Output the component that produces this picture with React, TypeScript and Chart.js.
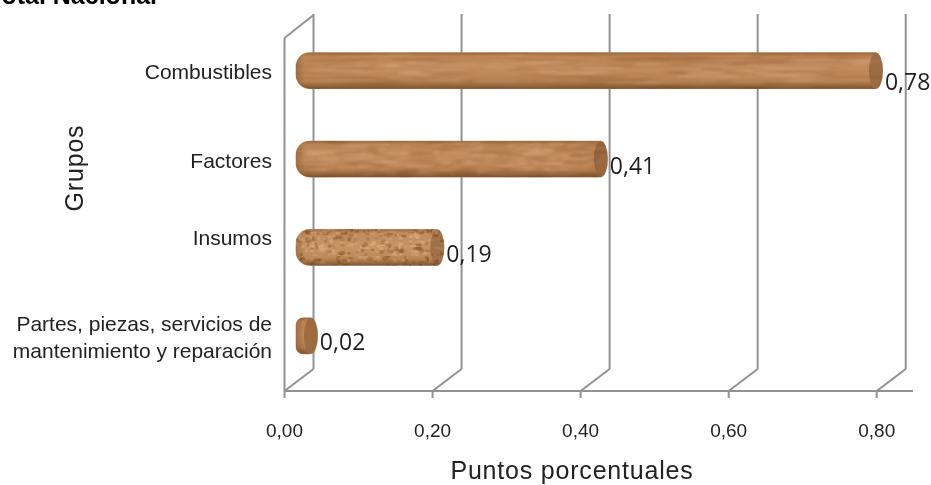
import React, { useEffect, useRef } from "react";
import { Chart, registerables } from "chart.js";

Chart.register(...registerables);

const categories: (string | string[])[] = [
  "Combustibles",
  "Factores",
  ["Insumos", ""],
  ["Partes, piezas, servicios de", "mantenimiento y reparación"],
];
const values = [0.78, 0.41, 0.19, 0.02];
const tickValues = [0, 0.2, 0.4, 0.6, 0.8];
const yTitle = "Grupos";
const xTitle = "Puntos porcentuales";
const cutTitle = "Total Nacional";
const textures = ["streak", "mottle", "cork", "plain"];

const SANS = '"Liberation Sans", Arial, sans-serif';
const fmt = (v: number) => v.toFixed(2).replace(".", ",");

function makeTexture(kind: string): CanvasPattern | string {
  const c = document.createElement("canvas");
  c.width = 700;
  c.height = 128;
  const g = c.getContext("2d")!;
  let seed = kind.length * 7919 + 17;
  const rnd = () => {
    seed = (seed * 1664525 + 1013904223) % 4294967296;
    return seed / 4294967296;
  };
  g.fillStyle = kind === "cork" ? "#c48f5e" : kind === "plain" ? "#c08756" : "#bf8757";
  g.fillRect(0, 0, 700, 128);
  const dark = kind === "cork" ? "#8a5730" : "#a56e41";
  const light = kind === "cork" ? "#e0b488" : "#d3a077";
  g.filter = kind === "cork" ? "blur(0.7px)" : "blur(1px)";
  const n = kind === "streak" ? 900 : kind === "mottle" ? 1700 : kind === "cork" ? 5200 : 0;
  for (let i = 0; i < n; i++) {
    g.fillStyle = rnd() < 0.5 ? dark : light;
    g.globalAlpha = 0.2 + rnd() * 0.45;
    const x = rnd() * 700;
    const y = rnd() * 128;
    const w = kind === "streak" ? 20 + rnd() * 50 : kind === "mottle" ? 8 + rnd() * 22 : 2 + rnd() * 5;
    const h = kind === "streak" ? 1 + rnd() * 2.5 : kind === "mottle" ? 1.5 + rnd() * 3 : 1.5 + rnd() * 3;
    // wrap across the tile edge so that the repeat shows no seam
    [x - 700, x, x + 700].forEach((px) => {
      if (px + w < -4 || px - w > 704) return;
      g.beginPath();
      g.ellipse(px, y, w / 2, h / 2, 0, 0, Math.PI * 2);
      g.fill();
    });
  }
  return g.createPattern(c, "repeat") || "#bf8757";
}

const depthPlugin = {
  id: "depth",
  beforeDatasetsDraw(chart: any) {
    const { ctx, scales } = chart;
    const x = scales.x;
    const floorY = 391;
    const dx = 29;
    const dy = 22;
    ctx.save();
    ctx.strokeStyle = "#929292";
    ctx.lineWidth = 2;
    const line = (a: number, b: number, c: number, d: number) => {
      ctx.beginPath();
      ctx.moveTo(a, b);
      ctx.lineTo(c, d);
      ctx.stroke();
    };
    const x0 = x.getPixelForValue(0);
    line(x0, 38, x0, floorY);
    line(x0, 38, x0 + dx, 15);
    line(x0, floorY, x.right, floorY);
    tickValues.forEach((v) => {
      const px = x.getPixelForValue(v);
      line(px, floorY, px, floorY + 7);
      line(px, floorY, px + dx, floorY - dy);
      line(px + dx, floorY - dy, px + dx, 14);
    });
    ctx.restore();
  },
  afterDatasetsDraw(chart: any) {
    const { ctx } = chart;
    const meta = chart.getDatasetMeta(0);
    ctx.save();
    meta.data.forEach((bar: any, i: number) => {
      const half = bar.height / 2;
      const left = bar.base;
      const right = bar.x;
      const grad = ctx.createLinearGradient(0, bar.y - half, 0, bar.y + half);
      grad.addColorStop(0, "rgba(120,75,40,0.5)");
      grad.addColorStop(0.1, "rgba(120,75,40,0.05)");
      grad.addColorStop(0.45, "rgba(255,225,190,0.05)");
      grad.addColorStop(0.8, "rgba(100,60,25,0.1)");
      grad.addColorStop(1, "rgba(85,50,22,0.62)");
      const r = Math.min(14, (right - left) / 2);
      ctx.fillStyle = grad;
      ctx.beginPath();
      ctx.roundRect(left, bar.y - half, right - left, half * 2, [r, 0, 0, r]);
      ctx.fill();
      // shading on the rounded left end
      const side = ctx.createLinearGradient(left, 0, left + 9, 0);
      side.addColorStop(0, "rgba(100,60,25,0.35)");
      side.addColorStop(1, "rgba(100,60,25,0)");
      ctx.fillStyle = side;
      ctx.fill();
      // right end of the cylinder: same wood, tinted darker
      ctx.beginPath();
      ctx.ellipse(right, bar.y, 7, half, 0, 0, Math.PI * 2);
      ctx.fillStyle = bar.options.backgroundColor;
      ctx.fill();
      ctx.fillStyle = "rgba(95,55,25,0.35)";
      ctx.fill();
      ctx.fillStyle = "#1f1f1f";
      ctx.font = '23px "Open Sans", sans-serif';
      ctx.textAlign = "left";
      ctx.textBaseline = "middle";
      ctx.fillText(fmt(values[i]), right + 9, bar.y + (i === 0 ? 13 : 8));
    });
    ctx.fillStyle = "#222222";
    ctx.textAlign = "center";
    ctx.textBaseline = "middle";
    ctx.font = `25px ${SANS}`;
    (ctx as any).letterSpacing = "0.8px";
    ctx.fillText(xTitle, 572, 472);
    ctx.save();
    ctx.translate(76, 168);
    ctx.rotate(-Math.PI / 2);
    ctx.fillText(yTitle, 0, 0);
    ctx.restore();
    (ctx as any).letterSpacing = "0px";
    ctx.fillStyle = "#000000";
    ctx.textAlign = "left";
    ctx.textBaseline = "alphabetic";
    ctx.font = `bold 25px ${SANS}`;
    ctx.fillText(cutTitle, -12, 4);
    ctx.restore();
  },
};

export default function App() {
  const ref = useRef<HTMLCanvasElement>(null);
  useEffect(() => {
    document.body.style.margin = "0";
    const chart = new Chart(ref.current!, {
      type: "bar",
      data: {
        labels: categories as any,
        datasets: [
          {
            data: values,
            xAxisID: "x2",
            yAxisID: "y",
            barThickness: 36,
            backgroundColor: textures.map(makeTexture) as any,
            borderWidth: 0,
            borderSkipped: false,
            borderRadius: (c: any) => {
              const r = Math.min(14, (values[c.dataIndex] * 743) / 2);
              return { topLeft: r, bottomLeft: r, topRight: 0, bottomRight: 0 };
            },
          },
        ],
      },
      options: {
        indexAxis: "y",
        responsive: false,
        animation: false,
        layout: { autoPadding: false, padding: { top: 26.5, right: 18, left: 0, bottom: 0 } },
        plugins: { legend: { display: false }, tooltip: { enabled: false }, title: { display: false } },
        scales: {
          x: {
            type: "linear",
            axis: "x",
            position: "bottom",
            min: 0,
            max: 0.849,
            afterFit: (s: any) => { s.height = 105; s.paddingLeft = 0; s.paddingRight = 0; },
            grid: { display: false },
            border: { display: false },
            afterBuildTicks: (s: any) => { s.ticks = tickValues.map((value) => ({ value })); },
            ticks: {
              padding: 32,
              maxRotation: 0,
              color: "#222222",
              font: { family: SANS, size: 19 },
              callback: (v: any) => fmt(Number(v)),
            },
          },
          x2: {
            type: "linear",
            axis: "x",
            position: "bottom",
            display: false,
            min: -0.01547,
            max: 0.8298,
          },
          y: {
            type: "category",
            position: "left",
            afterFit: (s: any) => { s.width = 284.5; s.paddingTop = 0; s.paddingBottom = 0; },
            grid: { display: false },
            border: { display: false },
            ticks: {
              padding: 4.5,
              labelOffset: 3,
              color: "#222222",
              autoSkip: false,
              font: (c: any) => ({
                family: SANS,
                size: 21,
                lineHeight: c.index === 2 ? 22 / 21 : 27 / 21,
              }),
            },
          },
        },
      } as any,
      plugins: [depthPlugin],
    });
    return () => chart.destroy();
  }, []);
  return <canvas ref={ref} width={931} height={485} style={{ display: "block" }} />;
}
